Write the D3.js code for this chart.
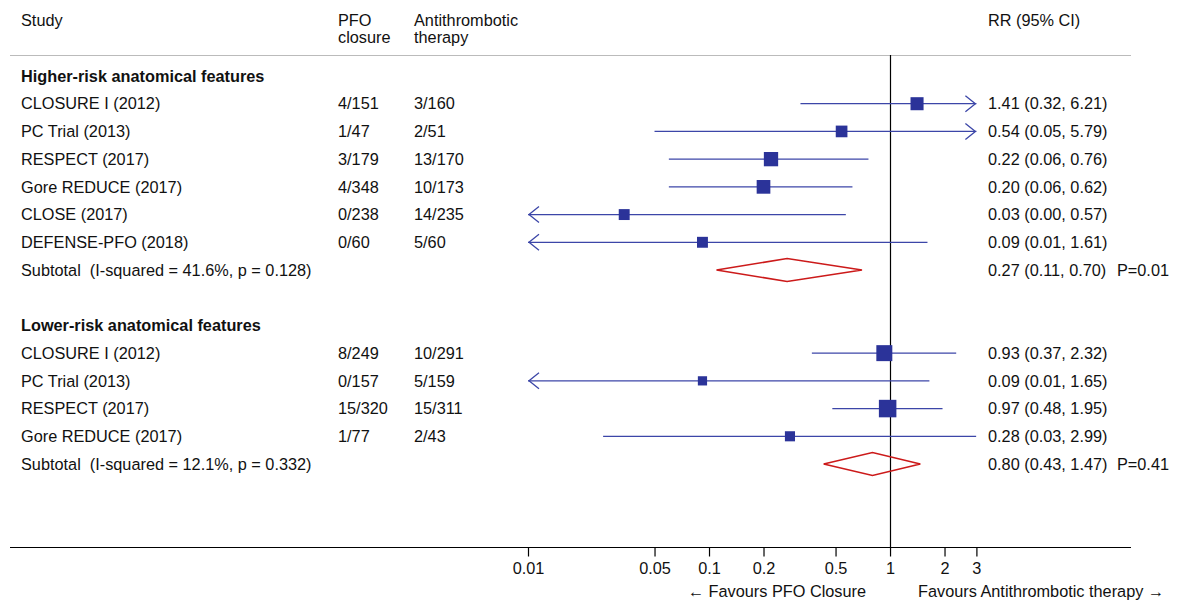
<!DOCTYPE html>
<html>
<head>
<meta charset="utf-8">
<script src="https://cdn.jsdelivr.net/npm/d3@7"></script>
<style>
  body { margin: 0; background: #fff; }
  text { font-family: "Liberation Sans", Arial, sans-serif; font-size: 16.3px; fill: #111; }
</style>
</head>
<body>
<div id="chart"></div>
<script>
///// Data

// group titles
var groups = ["Higher-risk anatomical features", "Lower-risk anatomical features"];

// studies (group index, label, events)
var studyGroup = [0, 0, 0, 0, 0, 0, 1, 1, 1, 1];
var studyNames = ["CLOSURE I (2012)", "PC Trial (2013)", "RESPECT (2017)", "Gore REDUCE (2017)",
                  "CLOSE (2017)", "DEFENSE-PFO (2018)",
                  "CLOSURE I (2012)", "PC Trial (2013)", "RESPECT (2017)", "Gore REDUCE (2017)"];
var pfoEvents = ["4/151", "1/47", "3/179", "4/348", "0/238", "0/60", "8/249", "0/157", "15/320", "1/77"];
var atEvents = ["3/160", "2/51", "13/170", "10/173", "14/235", "5/60", "10/291", "5/159", "15/311", "2/43"];
var rr = [1.41, 0.54, 0.22, 0.20, 0.034, 0.092, 0.93, 0.092, 0.97, 0.28];
var ciLow = [0.32, 0.05, 0.06, 0.06, 0.004, 0.005, 0.37, 0.005, 0.48, 0.026];
var ciHigh = [6.21, 5.79, 0.76, 0.62, 0.57, 1.61, 2.32, 1.65, 1.95, 2.99];
var weights = [10, 8, 12, 11, 7, 7, 15, 5, 18, 6];

// pooled estimates
var subLabels = ["Subtotal\u00a0\u00a0(I-squared = 41.6%, p = 0.128)", "Subtotal\u00a0\u00a0(I-squared = 12.1%, p = 0.332)"];
var subRR = [0.27, 0.80];
var subLow = [0.11, 0.43];
var subHigh = [0.70, 1.47];
var subP = ["P=0.01", "P=0.41"];

var tickValues = [0.01, 0.05, 0.1, 0.2, 0.5, 1, 2, 3];

///// D3

var width = 1179, height = 601;
var fmt = d3.format(".2f");
var blueLine = "#3c46a8", blueBox = "#2b3399", red = "#cc1a1a";

var svg = d3.select("#chart").append("svg")
    .attr("width", width)
    .attr("height", height);

// x: log scale of RR
var x = d3.scaleLog().domain([0.01, 3]).range([528, 976.4]);

// y: row index -> position
var y = d3.scaleLinear().domain([0, 14]).range([76, 464]);

// build row layout
var rows = [];
var r = 0;
groups.forEach(function(g, gi) {
    rows.push({type: "group", label: g, row: r++});
    studyGroup.forEach(function(sg, i) {
        if (sg === gi) rows.push({type: "study", i: i, row: r++});
    });
    rows.push({type: "sub", i: gi, row: r++});
    r++; // blank row between groups
});

// header
var header = svg.append("g");
header.append("text").attr("x", 21).attr("y", 26).text("Study");
header.append("text").attr("x", 338).attr("y", 26).text("PFO");
header.append("text").attr("x", 338).attr("y", 43).text("closure");
header.append("text").attr("x", 414).attr("y", 26).text("Antithrombotic");
header.append("text").attr("x", 414).attr("y", 43).text("therapy");
header.append("text").attr("x", 988).attr("y", 26).text("RR (95% CI)");

svg.append("line")
    .attr("x1", 10).attr("x2", 1131)
    .attr("y1", 55.5).attr("y2", 55.5)
    .attr("stroke", "#bbb").attr("stroke-width", 1.2);

// null line at RR = 1
svg.append("line")
    .attr("x1", Math.round(x(1)) + 0.5).attr("x2", Math.round(x(1)) + 0.5)
    .attr("y1", 55).attr("y2", 547)
    .attr("stroke", "#000").attr("stroke-width", 1.2);

var size = d3.scaleSqrt().domain([0, d3.max(weights)]).range([0, 17.5]);
var lo = x.domain()[0], hi = x.domain()[1];

rows.forEach(function(d) {
    var yy = y(d.row);
    if (d.type === "group") {
        svg.append("text").attr("x", 21).attr("y", yy).attr("dy", "0.35em")
            .style("font-weight", "bold").text(d.label);
        return;
    }
    if (d.type === "study") {
        var i = d.i;
        svg.append("text").attr("x", 21).attr("y", yy).attr("dy", "0.35em").text(studyNames[i]);
        svg.append("text").attr("x", 338).attr("y", yy).attr("dy", "0.35em").text(pfoEvents[i]);
        svg.append("text").attr("x", 414).attr("y", yy).attr("dy", "0.35em").text(atEvents[i]);
        svg.append("text").attr("x", 988).attr("y", yy).attr("dy", "0.35em")
            .text(fmt(rr[i]) + " (" + fmt(ciLow[i]) + ", " + fmt(ciHigh[i]) + ")");

        var x1 = x(Math.max(ciLow[i], lo)), x2 = x(Math.min(ciHigh[i], hi));
        svg.append("line")
            .attr("x1", x1).attr("x2", x2).attr("y1", yy).attr("y2", yy)
            .attr("stroke", blueLine).attr("stroke-width", 1.3);
        // arrows where the CI runs off the axis
        if (ciLow[i] < lo) {
            svg.append("path")
                .attr("d", "M" + (x1 + 11) + "," + (yy - 8) + "L" + (x1 + 1) + "," + yy + "L" + (x1 + 11) + "," + (yy + 8))
                .attr("fill", "none").attr("stroke", blueLine).attr("stroke-width", 1.3);
        }
        if (ciHigh[i] > hi) {
            svg.append("path")
                .attr("d", "M" + (x2 - 11) + "," + (yy - 8) + "L" + (x2 - 1) + "," + yy + "L" + (x2 - 11) + "," + (yy + 8))
                .attr("fill", "none").attr("stroke", blueLine).attr("stroke-width", 1.3);
        }
        var s = size(weights[i]);
        svg.append("rect")
            .attr("x", x(rr[i]) - s / 2).attr("y", yy - s / 2)
            .attr("width", s).attr("height", s)
            .attr("fill", blueBox);
        return;
    }
    // subtotal diamond
    var k = d.i;
    svg.append("text").attr("x", 21).attr("y", yy).attr("dy", "0.35em").text(subLabels[k]);
    svg.append("text").attr("x", 988).attr("y", yy).attr("dy", "0.35em")
        .text(fmt(subRR[k]) + " (" + fmt(subLow[k]) + ", " + fmt(subHigh[k]) + ")");
    svg.append("text").attr("x", 1169).attr("y", yy).attr("dy", "0.35em")
        .attr("text-anchor", "end").text(subP[k]);
    svg.append("path")
        .attr("d", "M" + x(subLow[k]) + "," + yy +
                   "L" + x(subRR[k]) + "," + (yy - 11.5) +
                   "L" + x(subHigh[k]) + "," + yy +
                   "L" + x(subRR[k]) + "," + (yy + 11.5) + "Z")
        .attr("fill", "none").attr("stroke", red).attr("stroke-width", 1.6);
});

// bottom axis
svg.append("line")
    .attr("x1", 10).attr("x2", 1131)
    .attr("y1", 547.5).attr("y2", 547.5)
    .attr("stroke", "#000").attr("stroke-width", 1.2);

var axis = svg.append("g")
    .attr("transform", "translate(0,547.5)")
    .call(d3.axisBottom(x).tickValues(tickValues).tickFormat(d3.format("")).tickSize(9).tickPadding(6));
axis.select(".domain").remove();
axis.selectAll("text").style("font-size", "16.3px").attr("fill", "#111");
axis.selectAll(".tick line").attr("stroke", "#000").attr("stroke-width", 1.2);

svg.append("text").attr("x", 866).attr("y", 597).attr("text-anchor", "end")
    .text("\u2190 Favours PFO Closure");
svg.append("text").attr("x", 918).attr("y", 597)
    .text("Favours Antithrombotic therapy \u2192");
</script>
</body>
</html>
